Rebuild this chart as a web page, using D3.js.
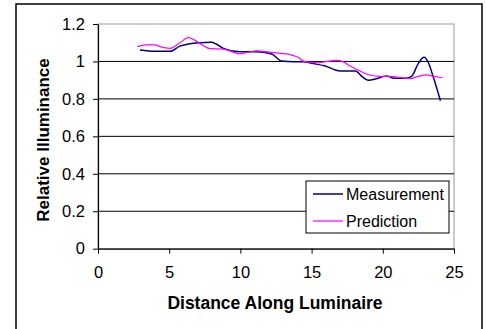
<!DOCTYPE html>
<html>
<head>
<meta charset="utf-8">
<script src="https://cdn.jsdelivr.net/npm/d3@7"></script>
<style>
  body { margin: 0; background: #fff; }
  text { font-family: "Liberation Sans", Arial, sans-serif; fill: #000; }
</style>
</head>
<body>
<div class="chart"></div>
<script>
var measX = [2.95, 4.0, 5.05, 5.75, 6.45, 7.15, 7.97, 8.3, 8.8, 9.96, 11.1, 12.2, 12.9, 13.7, 14.4, 15.0, 15.9, 17.0, 18.1, 18.5, 19.0, 19.55, 20.25, 20.8, 21.5, 22.0, 22.5, 22.9, 23.2, 23.5, 24.05];
var measY = [1.061, 1.054, 1.054, 1.082, 1.095, 1.100, 1.102, 1.093, 1.070, 1.052, 1.052, 1.040, 1.002, 0.999, 0.999, 0.990, 0.977, 0.949, 0.949, 0.922, 0.900, 0.908, 0.922, 0.910, 0.910, 0.919, 0.990, 1.022, 0.993, 0.928, 0.790];

var predX = [2.76, 3.4, 4.0, 4.35, 5.05, 5.75, 6.34, 6.8, 7.27, 7.86, 8.8, 9.96, 11.13, 12.3, 13.6, 14.05, 14.5, 15.35, 16.0, 16.75, 17.1, 17.7, 18.4, 19.0, 19.8, 20.6, 21.2, 21.9, 22.5, 23.06, 23.5, 24.2];
var predY = [1.079, 1.088, 1.088, 1.079, 1.070, 1.100, 1.127, 1.114, 1.090, 1.068, 1.066, 1.041, 1.057, 1.047, 1.034, 1.022, 0.999, 0.993, 0.999, 1.006, 1.002, 0.976, 0.949, 0.929, 0.920, 0.920, 0.915, 0.908, 0.920, 0.928, 0.922, 0.913];

var xTicks = [0, 5, 10, 15, 20, 25];
var yTicks = [0, 0.2, 0.4, 0.6, 0.8, 1, 1.2];
var seriesNames = ['Measurement', 'Prediction'];
var seriesColors = ['#000080', '#ff00ff'];

var W = 486, H = 329;
var margin = {top: 24, right: 32, bottom: 80, left: 98};
var width = 454 - margin.left;
var height = 248.7 - margin.top;

var svg = d3.select(".chart").append("svg")
    .attr("width", W)
    .attr("height", H);

// outer frame
svg.append("rect")
    .attr("x", 16).attr("y", 4)
    .attr("width", 466).attr("height", 340)
    .attr("fill", "none")
    .attr("stroke", "#000")
    .attr("stroke-width", 1.5);

var g = svg.append("g")
    .attr("transform", "translate(" + margin.left + "," + margin.top + ")");

var x = d3.scaleLinear().domain([0, 25]).range([0, width]);
var y = d3.scaleLinear().domain([0, 1.2]).range([height, 0]);

// plot area border (grey top/right)
g.append("rect")
    .attr("x", 0).attr("y", 0)
    .attr("width", width).attr("height", height)
    .attr("fill", "none")
    .attr("stroke", "#999")
    .attr("stroke-width", 1);

// gridlines
g.selectAll(".grid")
    .data(yTicks.filter(function(d) { return d > 0 && d < 1.2; }))
  .enter().append("line")
    .attr("class", "grid")
    .attr("x1", 0).attr("x2", width)
    .attr("y1", function(d) { return y(d); })
    .attr("y2", function(d) { return y(d); })
    .attr("stroke", "#000")
    .attr("stroke-width", 1);

var xAxis = g.append("g")
    .attr("transform", "translate(0," + height + ")")
    .call(d3.axisBottom(x).tickValues(xTicks).tickSize(5).tickPadding(13).tickSizeOuter(0));

var yAxis = g.append("g")
    .call(d3.axisLeft(y).tickValues(yTicks).tickSize(5).tickPadding(8).tickSizeOuter(0)
      .tickFormat(function(d) { return d3.format("")(+d.toFixed(1)); }));

[xAxis, yAxis].forEach(function(a) {
  a.selectAll("text").style("font-size", "16.5px").style("font-family", '"Liberation Sans", Arial, sans-serif');
  a.select(".domain").attr("stroke", "#000").attr("stroke-width", 1.2);
  a.selectAll(".tick line").attr("stroke", "#000");
});

var line = d3.line()
    .x(function(d) { return x(d[0]); })
    .y(function(d) { return y(d[1]); })
    .curve(d3.curveMonotoneX);

var measData = d3.zip(measX, measY);
var predData = d3.zip(predX, predY);

g.append("path")
    .datum(measData)
    .attr("d", line)
    .attr("fill", "none")
    .attr("stroke", seriesColors[0])
    .attr("stroke-width", 1.5);

g.append("path")
    .datum(predData)
    .attr("d", line)
    .attr("fill", "none")
    .attr("stroke", seriesColors[1])
    .attr("stroke-width", 1.2);

// legend
var legend = svg.append("g").attr("transform", "translate(306,181)");
legend.append("rect")
    .attr("width", 143).attr("height", 52)
    .attr("fill", "#fff")
    .attr("stroke", "#000")
    .attr("stroke-width", 1);
seriesNames.forEach(function(name, i) {
  var ly = 13 + i * 27;
  legend.append("line")
      .attr("x1", 7).attr("x2", 37)
      .attr("y1", ly).attr("y2", ly)
      .attr("stroke", seriesColors[i])
      .attr("stroke-width", i === 0 ? 1.5 : 1.2);
  legend.append("text")
      .attr("x", 40).attr("y", ly)
      .attr("dy", "0.35em")
      .style("font-size", "16px")
      .text(name);
});

// axis titles
svg.append("text")
    .attr("x", 275).attr("y", 309)
    .attr("text-anchor", "middle")
    .style("font-size", "17.5px")
    .style("font-weight", "bold")
    .text("Distance Along Luminaire");

svg.append("text")
    .attr("transform", "translate(49,140) rotate(-90)")
    .attr("text-anchor", "middle")
    .style("font-size", "17px")
    .style("font-weight", "bold")
    .text("Relative Illuminance");
</script>
</body>
</html>
